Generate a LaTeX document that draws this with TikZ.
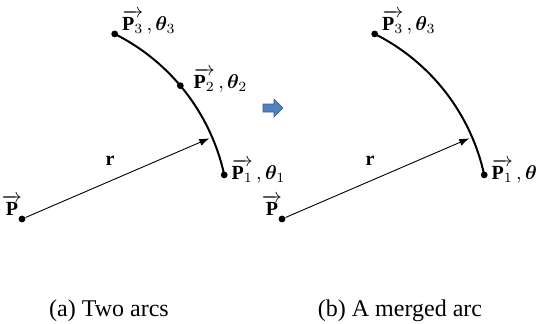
\documentclass[tikz,border=0pt]{standalone}
\usepackage{fontspec}
\setmainfont{Liberation Serif}
\usepackage{amsmath}
\usepackage{bm}
\usetikzlibrary{calc, positioning, arrows.meta}
\definecolor{mergeblue}{RGB}{79,129,189}
\definecolor{mergeborder}{RGB}{56,93,138}

\begin{document}
\begin{tikzpicture}[x=0.5pt,y=0.5pt,
every node/.style={font=\normalsize},
dot/.style={circle,fill=black,inner sep=0pt,minimum size=3.4pt},
arc line/.style={line width=1pt},
radius line/.style={line width=0.45pt,-{Latex[length=5pt,width=3.6pt]}},
point label/.style={inner sep=1pt},
caption/.style={font=\rmfamily\fontsize{12}{14}\selectfont}]
\useasboundingbox (0,0) rectangle (537,323);
% Both panels share the centre, the end points and the radius vector:
\foreach \panel/\dx in {a/0,b/260}
{
\coordinate (centre \panel) at (22+\dx,104);
\node [dot] (P \panel) at (centre \panel) {};
\node [dot] (P1 \panel) at ($(centre \panel)+(12.3:207)$) {};
\node [dot] (P3 \panel) at ($(centre \panel)+(63.4:207)$) {};
\coordinate (r end \panel) at ($(centre \panel)+(23.3:204)$);
\draw [radius line] (P \panel) -- node [pos=0.46, above=4pt] {$\mathbf{r}$} (r end \panel);
\node [point label] (P label \panel) at ($(P \panel)+(-10,14)$) {$\overrightarrow{\mathbf{P}}$};
\node [point label, anchor=west] (P1 label \panel) at ($(P1 \panel)+(5,4)$) {$\overrightarrow{\mathbf{P}_1}\,,\bm{\theta}_1$};
\node [point label, anchor=south west] (P3 label \panel) at ($(P3 \panel)+(5,-3)$) {$\overrightarrow{\mathbf{P}_3}\,,\bm{\theta}_3$};
}
% (a) two arcs meeting at P2
\node [dot] (P2 a) at ($(centre a)+(40.1:207)$) {};
\node [point label, anchor=west] (P2 label a) at ($(P2 a)+(11,5)$) {$\overrightarrow{\mathbf{P}_2}\,,\bm{\theta}_2$};
\draw [arc line] (P3 a.center) arc [start angle=63.4, end angle=40.1, radius=207];
\draw [arc line] (P2 a.center) arc [start angle=40.1, end angle=12.3, radius=207];
% (b) one merged arc
\draw [arc line] (P3 b.center) arc [start angle=63.4, end angle=12.3, radius=207];
% block arrow between the panels
\filldraw [fill=mergeblue, draw=mergeborder, line width=0.3pt]
(263,211) -- (274,211) -- (274,206) -- (283,215) -- (274,224) -- (274,219) -- (263,219) -- cycle;
\node [caption] (caption a) at (109,12) {(a) Two arcs};
\node [caption] (caption b) at (400,12) {(b) A merged arc};
\end{tikzpicture}
\end{document}
